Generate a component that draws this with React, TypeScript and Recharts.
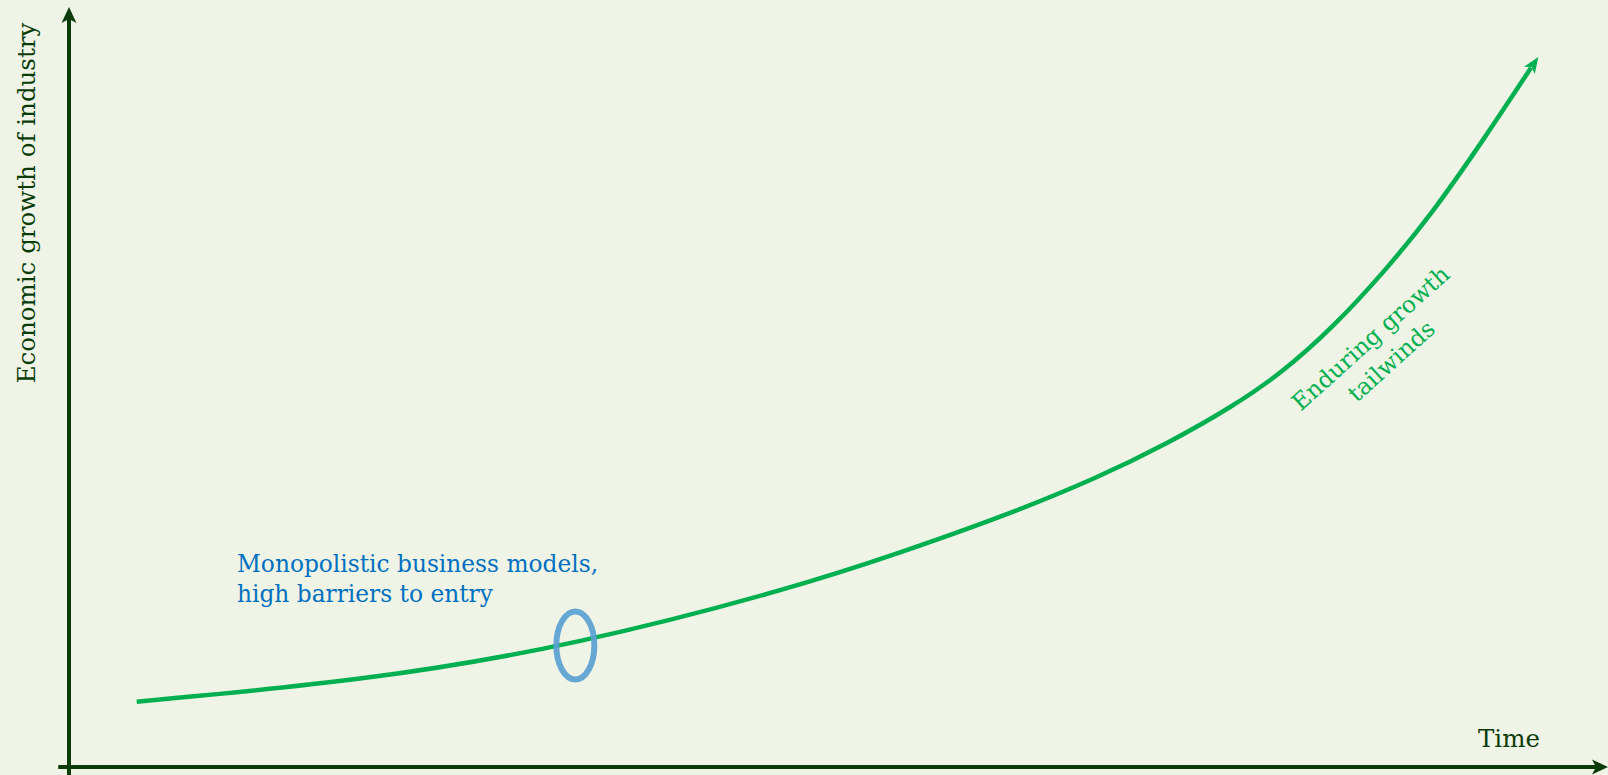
import React from 'react';
import { LineChart, Line, XAxis, YAxis, ReferenceLine, ReferenceDot, Customized } from 'recharts';

// ---- data ----
const times = [4.4, 19.4, 32.9, 47.5, 54.0, 60.5, 67.0, 71.4, 75.6, 78.9, 82.1, 85.4, 88.6, 91.9, 95.0];
const growth = [8.6, 11.4, 16.0, 23.8, 28.2, 32.8, 38.2, 42.6, 47.4, 52.0, 57.8, 65.0, 72.9, 82.5, 92.0];
const highlightTime = 32.9;
const highlightGrowth = 16.0;
const xAxisLabel = 'Time';
const yAxisLabel = 'Economic growth of industry';
const annotationLines = ['Monopolistic business models,', 'high barriers to entry'];
const trendLines = ['Enduring growth', 'tailwinds'];

const data = times.map((t, i) => ({ t, v: growth[i] }));

// ---- styles ----
const BG = '#f0f4e6';
const AXIS = '#0a3c0a';
const GREEN = '#00b050';
const BLUE = '#0070c0';
const RING = '#5b9fd2';
const FONT = "'DejaVu Serif', Georgia, serif";

const AxisArrow = (props: any) => {
  const { x1, y1, x2, y2 } = props;
  const dx = x2 - x1;
  const dy = y2 - y1;
  const len = Math.sqrt(dx * dx + dy * dy) || 1;
  const ang = (Math.atan2(dy, dx) * 180) / Math.PI;
  const ex = x2 - (dx / len) * 10;
  const ey = y2 - (dy / len) * 10;
  return (
    <g>
      <line x1={x1} y1={y1} x2={ex} y2={ey} stroke={AXIS} strokeWidth={4} />
      <polygon
        points="0,0 -16,-7.5 -12,0 -16,7.5"
        fill={AXIS}
        transform={`translate(${x2},${y2}) rotate(${ang})`}
      />
    </g>
  );
};

const Ring = (props: any) => {
  const { cx, cy } = props;
  return (
    <ellipse cx={cx} cy={cy} rx={19} ry={34} fill="none" stroke={RING} strokeWidth={6} opacity={0.92} />
  );
};

const EndDot = (props: any) => {
  const { cx, cy, index } = props;
  if (index !== data.length - 1) return <g key={`d${index}`} />;
  return (
    <polygon
      key={`d${index}`}
      points="13,0 -3,-6.5 1,0 -3,6.5"
      fill={GREEN}
      transform={`translate(${cx},${cy}) rotate(-56)`}
    />
  );
};

const Annotations = () => (
  <g fontFamily={FONT}>
    <text x={237} y={572} fontSize={23.3} fill={BLUE}>{annotationLines[0]}</text>
    <text x={237} y={602} fontSize={23.3} fill={BLUE}>{annotationLines[1]}</text>
    <text x={1478} y={747} fontSize={24.5} fill={AXIS}>{xAxisLabel}</text>
    <text transform="translate(35,203) rotate(-90)" textAnchor="middle" fontSize={24.5} fill={AXIS}>
      {yAxisLabel}
    </text>
    <g transform="translate(1376,344) rotate(-42)">
      <text x={0} y={0} textAnchor="middle" fontSize={23.3} fill={GREEN}>{trendLines[0]}</text>
      <text x={0} y={31} textAnchor="middle" fontSize={23.3} fill={GREEN}>{trendLines[1]}</text>
    </g>
  </g>
);

export default function App() {
  return (
    <div style={{ width: 1608, height: 775, background: BG }}>
      <style>{'body{margin:0;background:' + BG + ';}'}</style>
      <LineChart width={1608} height={775} data={data} margin={{ top: 7, right: 0, bottom: 8, left: 69 }}>
        <XAxis type="number" dataKey="t" domain={[0, 100]} allowDataOverflow hide height={0} />
        <YAxis type="number" domain={[0, 100]} allowDataOverflow hide width={0} />
        <ReferenceLine
          segment={[{ x: -0.7, y: 0 }, { x: 100, y: 0 }]}
          ifOverflow="visible"
          shape={AxisArrow}
        />
        <ReferenceLine
          segment={[{ x: 0, y: -1.05 }, { x: 0, y: 100 }]}
          ifOverflow="visible"
          shape={AxisArrow}
        />
        <Line
          type="basis"
          dataKey="v"
          stroke={GREEN}
          strokeWidth={4.5}
          dot={EndDot}
          activeDot={false}
          isAnimationActive={false}
        />
        <ReferenceDot x={highlightTime} y={highlightGrowth} ifOverflow="visible" shape={Ring} />
        <Customized component={Annotations} />
      </LineChart>
    </div>
  );
}
